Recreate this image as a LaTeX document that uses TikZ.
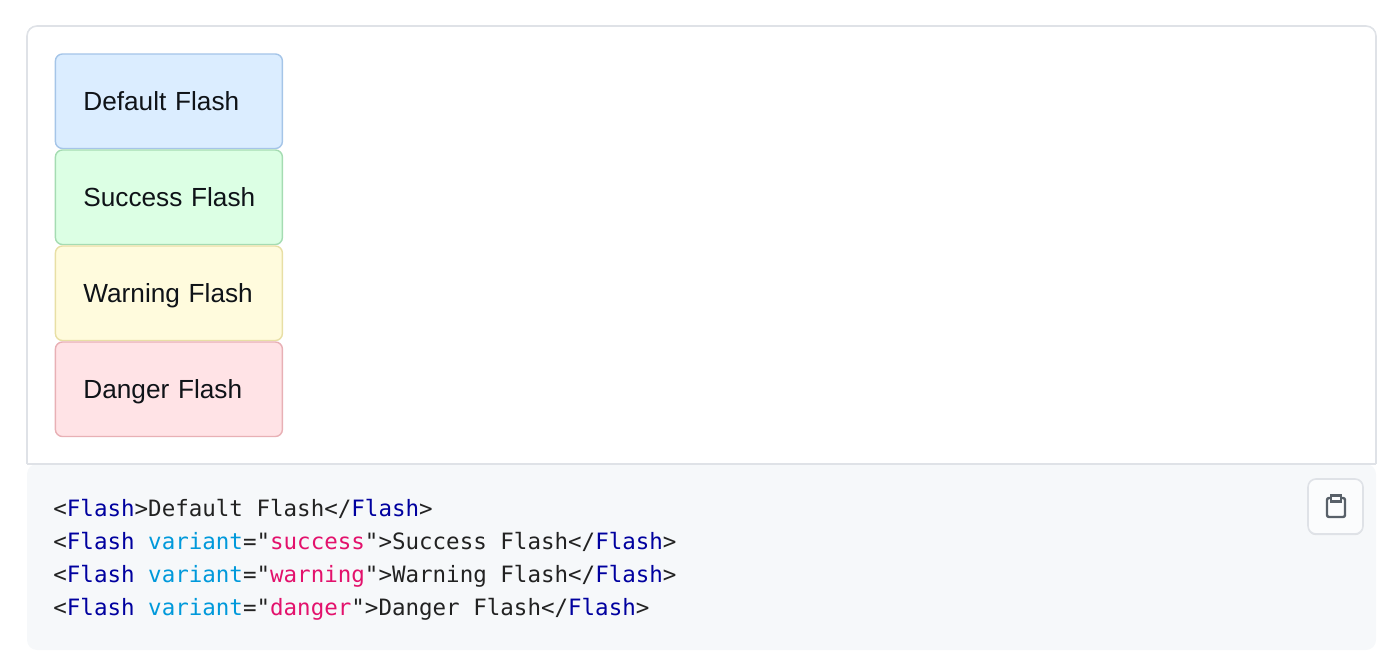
\documentclass[tikz,border=0pt]{standalone}
\usepackage{fontspec}
\setmainfont{Liberation Sans}
\setmonofont{DejaVu Sans Mono}
\usetikzlibrary{positioning,shadows}

\definecolor{panelline}{HTML}{DFE2E7}
\definecolor{codebg}{HTML}{F6F8FA}
\definecolor{inktext}{HTML}{0F1318}
\definecolor{codetext}{HTML}{222222}
\definecolor{tagblue}{HTML}{00009F}
\definecolor{attrblue}{HTML}{0099DB}
\definecolor{strred}{HTML}{E3116C}
\definecolor{iconslate}{HTML}{586069}

\newcommand{\tagname}{\textcolor{tagblue}{Flash}}
\newcommand{\attrname}{\textcolor{attrblue}{variant}}
\newcommand{\strval}[1]{\textcolor{strred}{#1}}

\tikzset{
  flashbox/.style={line width=0.7pt, rounded corners=3.5pt, outer sep=0pt,
    minimum height=47.25pt, text width=85.5pt, inner xsep=14pt, inner ysep=0pt,
    text height=12.5pt, text depth=3pt,
    font=\fontsize{13.1}{16}\selectfont, text=inktext, align=left},
  codeline/.style={anchor=base west, inner sep=0pt, text=codetext,
    font=\ttfamily\fontsize{11.25}{13}\selectfont},
}

\begin{document}
\begin{tikzpicture}[x=0.5pt,y=-0.5pt]
\useasboundingbox (0,0) rectangle (1400,672);

% panels
\fill [codebg, rounded corners=5pt] (27,464) -- (27,650) -- (1376,650) -- (1376,464) -- cycle;
\draw [panelline, line width=0.8pt, rounded corners=5pt] (27,464) -- (27,26) -- (1376,26) -- (1376,464);
\draw [panelline, line width=0.8pt] (27,464) -- (1376,464);

% flash boxes
\node [flashbox, draw={rgb,255:red,165;green,197;blue,232}, fill={rgb,255:red,219;green,237;blue,255}, anchor=north west] (default) at (55.4,54) {\mbox{Default Flash}};
\node [flashbox, draw={rgb,255:red,165;green,220;blue,178}, fill={rgb,255:red,220;green,255;blue,228}, below=0.75pt of default] (success) {\mbox{Success Flash}};
\node [flashbox, draw={rgb,255:red,232;green,223;blue,165}, fill={rgb,255:red,255;green,251;blue,221}, below=0.75pt of success] (warning) {\mbox{Warning Flash}};
\node [flashbox, draw={rgb,255:red,232;green,176;blue,181}, fill={rgb,255:red,255;green,227;blue,230}, below=0.75pt of warning] (danger) {\mbox{Danger Flash}};

% code
\node [codeline] (line1) at (53,516.5) {<\tagname>Default Flash</\tagname>};
\node [codeline] (line2) at (53,549.5) {<\tagname{} \attrname="\strval{success}">Success Flash</\tagname>};
\node [codeline] (line3) at (53,582.5) {<\tagname{} \attrname="\strval{warning}">Warning Flash</\tagname>};
\node [codeline] (line4) at (53,615.5) {<\tagname{} \attrname="\strval{danger}">Danger Flash</\tagname>};

% copy button
\node [draw=panelline, fill=white!60!codebg, line width=0.8pt, rounded corners=4pt, minimum size=27.5pt,
  inner sep=0pt, drop shadow={shadow xshift=0pt, shadow yshift=-0.6pt, opacity=0.2}] (copy) at (1335.5,506.5) {};
\draw [iconslate, line width=1.2pt, rounded corners=1pt] (1331,498) -- (1327,498) -- (1327,517) -- (1345,517) -- (1345,498) -- (1341,498);
\draw [iconslate, line width=1.2pt] (1331,495.5) rectangle (1341,501.5);

\end{tikzpicture}
\end{document}
